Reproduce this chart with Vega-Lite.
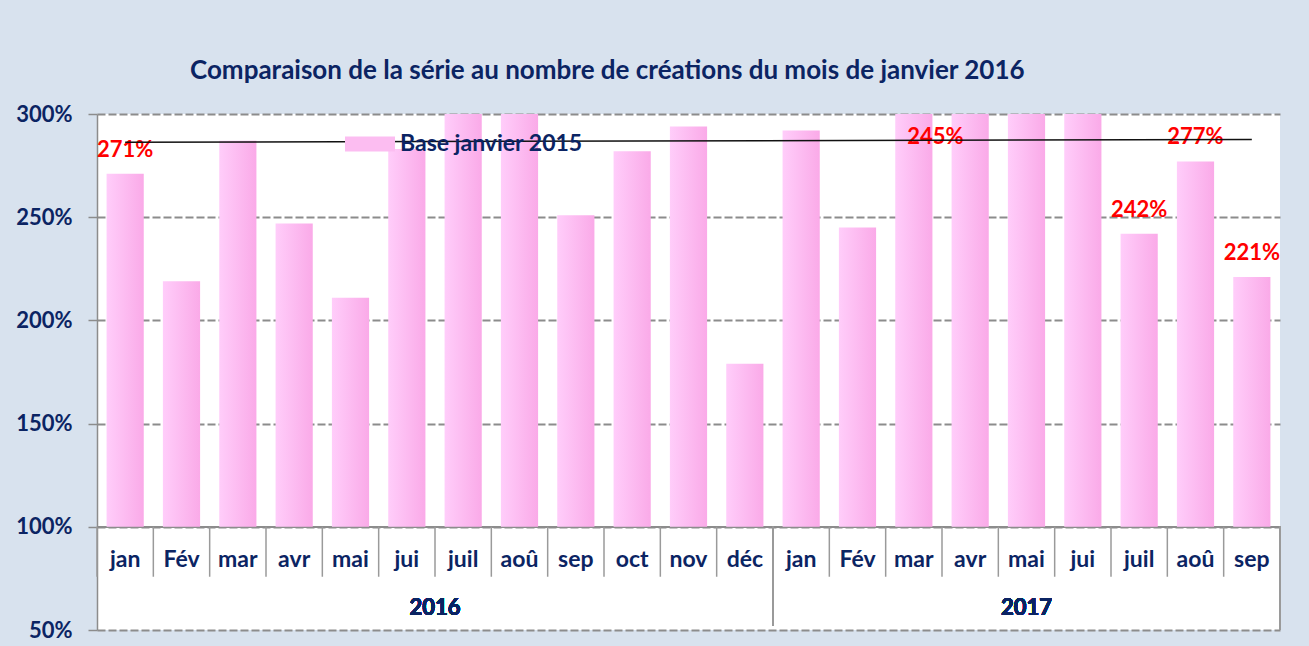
{
  "$schema": "https://vega.github.io/schema/vega-lite/v6.json",
  "width": 1183,
  "height": 516,
  "autosize": {"type": "none"},
  "padding": {"left": 97, "top": 114, "right": 29, "bottom": 16},
  "background": "#d8e2ee",
  "config": {
    "font": "Lato",
    "view": {"stroke": null, "fill": "white"}
  },
  "title": {
    "text": "Comparaison de la série au nombre de créations du mois de janvier 2016",
    "anchor": "start",
    "frame": "group",
    "dx": 93,
    "dy": 32,
    "offset": 30,
    "baseline": "alphabetic",
    "fontSize": 26,
    "fontWeight": "bold",
    "color": "#0b2463",
    "font": "Lato"
  },
  "datasets": {
    "main": [
      {"key": "2016-jan", "month": "jan", "year": "2016", "value": 2.71, "series": "Base janvier 2015"},
      {"key": "2016-Fév", "month": "Fév", "year": "2016", "value": 2.19, "series": "Base janvier 2015"},
      {"key": "2016-mar", "month": "mar", "year": "2016", "value": 2.87, "series": "Base janvier 2015"},
      {"key": "2016-avr", "month": "avr", "year": "2016", "value": 2.47, "series": "Base janvier 2015"},
      {"key": "2016-mai", "month": "mai", "year": "2016", "value": 2.11, "series": "Base janvier 2015"},
      {"key": "2016-jui", "month": "jui", "year": "2016", "value": 2.83, "series": "Base janvier 2015"},
      {"key": "2016-juil", "month": "juil", "year": "2016", "value": 3.15, "series": "Base janvier 2015"},
      {"key": "2016-aoû", "month": "aoû", "year": "2016", "value": 3.1, "series": "Base janvier 2015"},
      {"key": "2016-sep", "month": "sep", "year": "2016", "value": 2.51, "series": "Base janvier 2015"},
      {"key": "2016-oct", "month": "oct", "year": "2016", "value": 2.82, "series": "Base janvier 2015"},
      {"key": "2016-nov", "month": "nov", "year": "2016", "value": 2.94, "series": "Base janvier 2015"},
      {"key": "2016-déc", "month": "déc", "year": "2016", "value": 1.79, "series": "Base janvier 2015"},
      {"key": "2017-jan", "month": "jan", "year": "2017", "value": 2.92, "series": "Base janvier 2015"},
      {"key": "2017-Fév", "month": "Fév", "year": "2017", "value": 2.45, "series": "Base janvier 2015"},
      {"key": "2017-mar", "month": "mar", "year": "2017", "value": 3.1, "series": "Base janvier 2015"},
      {"key": "2017-avr", "month": "avr", "year": "2017", "value": 3.2, "series": "Base janvier 2015"},
      {"key": "2017-mai", "month": "mai", "year": "2017", "value": 3.3, "series": "Base janvier 2015"},
      {"key": "2017-jui", "month": "jui", "year": "2017", "value": 3.18, "series": "Base janvier 2015"},
      {"key": "2017-juil", "month": "juil", "year": "2017", "value": 2.42, "series": "Base janvier 2015"},
      {"key": "2017-aoû", "month": "aoû", "year": "2017", "value": 2.77, "series": "Base janvier 2015"},
      {"key": "2017-sep", "month": "sep", "year": "2017", "value": 2.21, "series": "Base janvier 2015"}
    ],
    "trend": [
      {"key": "2016-jan", "value": 2.863},
      {"key": "2017-sep", "value": 2.877}
    ]
  },
  "data": {"name": "main"},
  "layer": [
    {
      "mark": {"type": "rule", "color": "#8c8c8c", "strokeWidth": 1.5},
      "encoding": {
        "y": {"datum": 1.0, "type": "quantitative", "scale": {"domain": [0.5, 3.0], "nice": false, "zero": false},
          "axis": {"values": [0.5, 1, 1.5, 2, 2.5, 3], "format": ".0%", "title": null,
            "domainColor": "#8c8c8c", "domainWidth": 1.5, "tickColor": "#8c8c8c", "tickWidth": 1.5, "tickSize": 9,
            "labelPadding": 16, "labelFontSize": 22, "labelFontWeight": "bold", "labelColor": "#0b2463", "labelFont": "Lato",
            "grid": true, "gridDash": [8, 3], "gridColor": "#8c8c8c", "gridWidth": 2}}
      }
    },
    {
      "mark": {"type": "bar", "clip": true, "width": {"band": 0.66},
        "fill": {"gradient": "linear", "x1": 0, "y1": 0, "x2": 1, "y2": 0,
          "stops": [{"offset": 0, "color": "#ffcdfa"}, {"offset": 1, "color": "#faaae8"}]}},
      "encoding": {
        "x": {"field": "key", "type": "nominal", "sort": null, "axis": null,
          "scale": {"type": "band", "paddingInner": 0, "paddingOuter": 0, "domain": ["2016-jan","2016-Fév","2016-mar","2016-avr","2016-mai","2016-jui","2016-juil","2016-aoû","2016-sep","2016-oct","2016-nov","2016-déc","2017-jan","2017-Fév","2017-mar","2017-avr","2017-mai","2017-jui","2017-juil","2017-aoû","2017-sep"]}},
        "y": {"field": "value", "type": "quantitative"},
        "y2": {"datum": 1.0}
      }
    },
    {
      "mark": {"type": "bar", "clip": true},
      "encoding": {
        "color": {"field": "series", "type": "nominal", "scale": {"range": ["#fcbdf1"]},
          "legend": {"title": null, "orient": "none", "legendX": 248, "legendY": 5,
            "symbolType": "M-1,-0.3H1V0.3H-1Z", "symbolSize": 2500, "symbolStrokeWidth": 0, "symbolOpacity": 1,
            "labelOffset": 5, "labelFontSize": 23, "labelFontWeight": "bold", "labelColor": "#0b2463", "labelFont": "Lato", "labelLimit": 400}},
        "y": {"datum": 0.3},
        "y2": {"datum": 0.35}
      }
    },
    {
      "transform": [{"filter": {"field": "key", "oneOf": ["2016-jan", "2017-juil", "2017-aoû", "2017-sep"]}}],
      "mark": {"type": "text", "dy": -24, "baseline": "middle", "align": "center", "fontSize": 22, "fontWeight": "bold", "color": "#ff0000", "font": "Lato"},
      "encoding": {
        "x": {"field": "key", "type": "nominal"},
        "y": {"field": "value", "type": "quantitative"},
        "text": {"field": "value", "type": "quantitative", "format": ".0%"}
      }
    },
    {
      "transform": [{"filter": {"field": "key", "equal": "2017-Fév"}}],
      "mark": {"type": "text", "dx": 78, "baseline": "middle", "align": "center", "fontSize": 22, "fontWeight": "bold", "color": "#ff0000", "font": "Lato"},
      "encoding": {
        "x": {"field": "key", "type": "nominal"},
        "y": {"datum": 2.889},
        "text": {"field": "value", "type": "quantitative", "format": ".0%"}
      }
    },
    {
      "data": {"name": "trend"},
      "mark": {"type": "line", "color": "#111111", "strokeWidth": 1.5},
      "encoding": {
        "x": {"field": "key", "type": "nominal"},
        "y": {"field": "value", "type": "quantitative"}
      }
    },
    {
      "mark": {"type": "rule", "color": "#9a9a9a", "strokeWidth": 1.5},
      "encoding": {
        "x": {"field": "key", "type": "nominal", "bandPosition": 0},
        "y": {"datum": 1.0},
        "y2": {"datum": 0.758}
      }
    },
    {
      "mark": {"type": "rule", "color": "#9a9a9a", "strokeWidth": 1.5},
      "encoding": {
        "x": {"datum": "2017-jan", "type": "nominal", "bandPosition": 0},
        "y": {"datum": 1.0},
        "y2": {"datum": 0.52}
      }
    },
    {
      "mark": {"type": "rule", "color": "#9a9a9a", "strokeWidth": 1.5},
      "encoding": {
        "x": {"datum": "2017-sep", "type": "nominal", "bandPosition": 1},
        "y": {"datum": 1.0},
        "y2": {"datum": 0.5}
      }
    },
    {
      "mark": {"type": "text", "baseline": "middle", "align": "center", "fontSize": 23, "fontWeight": "bold", "color": "#0b2463", "font": "Lato"},
      "encoding": {
        "x": {"field": "key", "type": "nominal"},
        "y": {"datum": 0.84},
        "text": {"field": "month", "type": "nominal"}
      }
    },
    {
      "mark": {"type": "text", "baseline": "middle", "align": "center", "fontSize": 22, "fontWeight": "bold", "color": "#0b2463", "font": "Lato"},
      "encoding": {
        "x": {"datum": "2016-juil", "type": "nominal", "bandPosition": 0},
        "y": {"datum": 0.608},
        "text": {"value": "2016"}
      }
    },
    {
      "mark": {"type": "text", "baseline": "middle", "align": "center", "fontSize": 22, "fontWeight": "bold", "color": "#0b2463", "font": "Lato"},
      "encoding": {
        "x": {"datum": "2017-mai", "type": "nominal", "bandPosition": 0.5},
        "y": {"datum": 0.608},
        "text": {"value": "2017"}
      }
    }
  ]
}
